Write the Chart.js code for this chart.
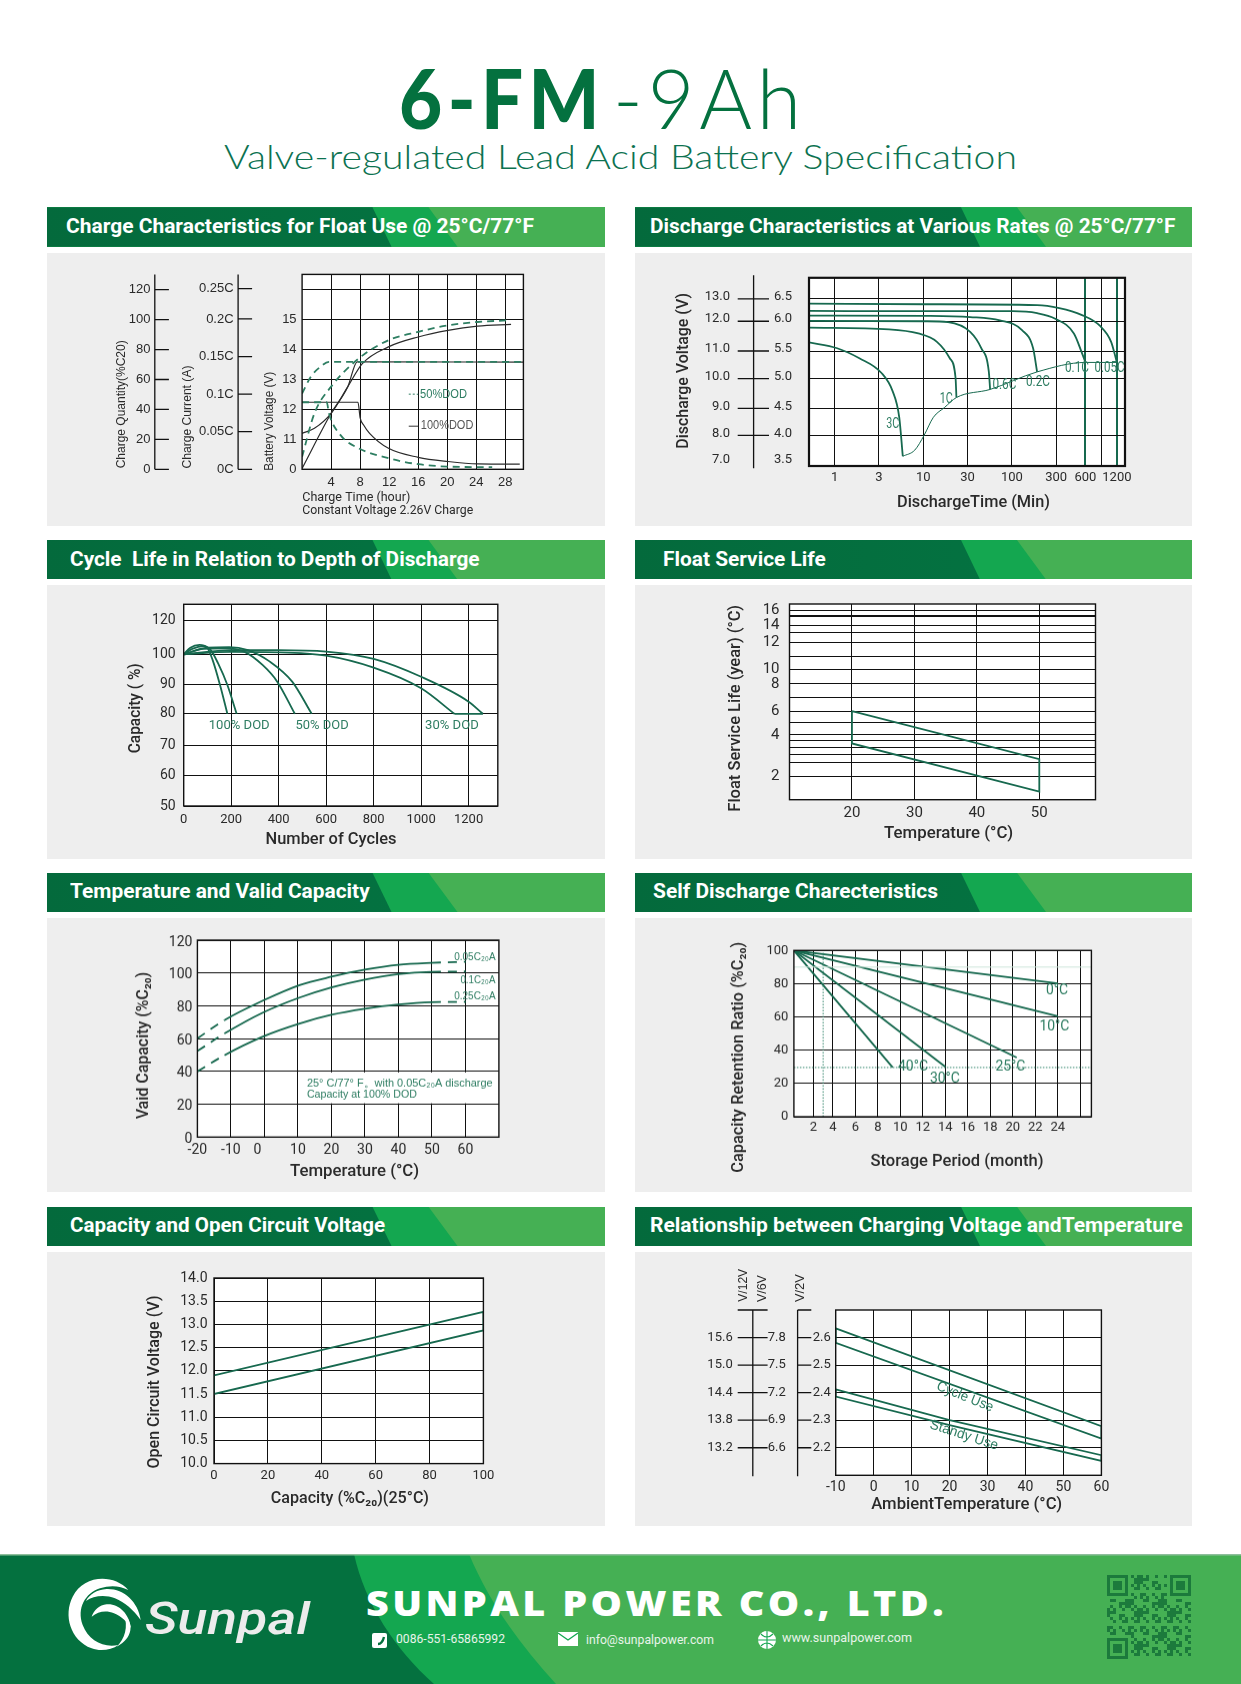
<!DOCTYPE html>
<html>
<head>
<meta charset="utf-8">
<title>6-FM-9Ah</title>
<script src="https://cdn.jsdelivr.net/npm/chart.js@4"></script>
<style>
  html, body { margin: 0; background: #fff; }
  #page { position: relative; width: 1241px; height: 1684px; overflow: hidden; background: #fff; }
  #page canvas { position: absolute; }
  .band, .panel, .layer { position: absolute; }
  .layer { inset: 0; }
  .txt { position: absolute; white-space: pre; line-height: 1; transform-origin: 0 50%; }
</style>
</head>
<body>
<div id="page"></div>
<script>
// Charge characteristics
const chargeTimeTicks = [4, 8, 12, 16, 20, 24, 28];
const batteryVoltTicks = [10, 11, 12, 13, 14, 15, 16];
const batteryVoltLabels = ['0', '11', '12', '13', '14', '15', ''];
const chargeQtyTicks = [0, 20, 40, 60, 80, 100, 120];
const chargeCurrentTicks = [0, 0.05, 0.1, 0.15, 0.2, 0.2403];
const chargeCurrentLabels = ['0C', '0.05C', '0.1C', '0.15C', '0.2C', '0.25C'];
const voltFullX = [0, 1.7, 4, 6.3, 8.3, 11.9, 16, 20.1, 24.2, 28.8];
const voltFullY = [11.2, 11.37, 11.87, 12.76, 13.53, 14.09, 14.42, 14.64, 14.78, 14.84];
const voltHalfX = [0, 1.7, 4, 7.8, 11.9, 16, 20.1, 24.2, 28.8];
const voltHalfY = [10.42, 11.87, 12.76, 13.7, 14.31, 14.59, 14.81, 14.92, 14.98];
const qtyFullX = [0, 4, 6.3, 7.6, 30.5];
const qtyFullY = [10.03, 11.87, 12.76, 13.59, 13.58];
const qtyHalfX = [0, 1.2, 2.5, 3.7, 30.5];
const qtyHalfY = [12.53, 13.09, 13.42, 13.59, 13.59];
const currentFullX = [0, 7.7, 8, 8.5, 9.3, 11.9, 16, 20.1, 24.2, 30];
const currentFullY = [12.24, 12.24, 11.72, 11.47, 11.2, 10.7, 10.4, 10.26, 10.18, 10.17];
const currentHalfX = [0, 3.4, 3.7, 5.3, 7.8, 11.9, 16, 20.1, 26.2];
const currentHalfY = [12.24, 12.24, 11.87, 11.14, 10.7, 10.37, 10.17, 10.09, 10.07];

// Discharge characteristics, the printed axes are not evenly spaced so values sit on grid slots
const dischargeTimeSlots = [0, 1, 2, 3, 4, 5, 5.66, 6.03, 6.37];
const dischargeTimeLabels = ['1', '3', '10', '30', '100', '300', '600', '', '1200'];
const dischargeVoltSlots = [7.17, 8.1, 9.07, 10.14, 11.13, 12.2, 13];
const dischargeVolt12 = ['7.0', '8.0', '9.0', '10.0', '11.0', '12.0', '13.0'];
const dischargeVolt6 = ['3.5', '4.0', '4.5', '5.0', '5.5', '6.0', '6.5'];
const rate005X = [-0.576, 2.06, 4.57, 5.07, 5.57, 5.99, 6.24, 6.37];
const rate005Y = [12.83, 12.81, 12.78, 12.67, 12.43, 12.03, 11.46, 10.72];
const rate01X = [-0.576, 2.06, 4.02, 4.57, 4.98, 5.4, 5.57, 5.66];
const rate01Y = [12.57, 12.56, 12.56, 12.49, 12.29, 11.76, 11.11, 10.72];
const rate02X = [-0.576, 2.06, 3.06, 3.73, 4.23, 4.48, 4.57];
const rate02Y = [12.4, 12.39, 12.35, 12.23, 11.88, 11.23, 10.38];
const rate06X = [-0.576, 2.06, 2.56, 3.06, 3.31, 3.48, 3.51];
const rate06Y = [12.21, 12.2, 12.17, 11.82, 11.23, 10.4, 9.75];
const rate1X = [-0.576, 1.23, 1.89, 2.31, 2.6, 2.73, 2.75];
const rate1Y = [11.97, 11.91, 11.76, 11.46, 10.87, 10.17, 9.46];
const rate3X = [-0.576, 0.06, 0.56, 1.06, 1.31, 1.46, 1.54];
const rate3Y = [11.44, 11.23, 10.87, 10.34, 9.69, 8.75, 7.35];
const cutoffX = [1.54, 1.81, 2.02, 2.23, 2.48, 2.75, 3.51, 4.57, 5.66, 6.37];
const cutoffY = [7.35, 7.57, 8.1, 8.75, 9.1, 9.46, 9.75, 10.38, 10.72, 10.72];

// Cycle life
const cycleTicks = [0, 200, 400, 600, 800, 1000, 1200];
const capacitySlots = [50, 60, 70, 80.4, 90.1, 100, 111.3];
const capacityLabels = ['50', '60', '70', '80', '90', '100', '120'];
const dod100aX = [0, 28, 67, 98, 122, 153, 184];
const dod100aY = [100, 102.2, 103.1, 102.3, 98.1, 89.9, 80.4];
const dod100bX = [0, 36, 83, 114, 145, 184, 223];
const dod100bY = [100, 101.8, 102.7, 101.4, 97, 89.9, 80.4];
const dod50aX = [0, 83, 176, 254, 332, 394, 468];
const dod50aY = [100, 101.8, 102, 100.9, 96.5, 91, 80.4];
const dod50bX = [0, 98, 192, 270, 363, 457, 539];
const dod50bY = [100, 102.2, 102.4, 101.4, 97.6, 91, 80.4];
const dod30aX = [0, 200, 400, 600, 800, 1000, 1140];
const dod30aY = [100, 100.8, 100.66, 99.56, 95.6, 88.8, 80.4];
const dod30bX = [0, 200, 400, 600, 800, 1000, 1200, 1260];
const dod30bY = [100, 101.4, 101.4, 100.9, 98.5, 92.6, 84.4, 80.4];
const dodEndX = [1140, 1260];
const dodEndY = [80.4, 80.4];

// Float service life, rows of the printed grid
const floatTempTicks = [20, 30, 40, 50];
const floatRows = [7, 11.2, 13.7, 15.6, 17.7, 19.5, 23.2, 26.6, 30.6, 34.8, 39.2, 43.1, 47.3, 50.2, 52.4, 55.1, 56.8];
const floatRowLabels = ['2', '', '', '', '', '4', '', '6', '', '8', '10', '', '12', '', '14', '', '16'];
const floatBandX = [20, 50, 50, 20, 20];
const floatBandY = [26.6, 12.2, 2.4, 16.9, 26.6];

// Temperature and valid capacity
const tempTicks = [-20, -10, 0, 10, 20, 30, 40, 50, 60];
const tempLabels = ['-20', '-10', '0    ', '10', '20', '30', '40', '50', '60'];
const validTicks = [0, 20, 40, 60, 80, 100, 120];
const validTemp = [-20, -11.9, -0.6, 10.5, 20, 30, 40, 50, 60.1];
const valid005 = [60.1, 71.3, 83, 92.6, 97.7, 102, 105, 106.2, 106.8];
const valid01 = [52.4, 63.1, 75.7, 85, 91.2, 96, 99.3, 100.7, 100.9];
const valid025 = [40, 49.9, 61.1, 69.2, 74.5, 78.2, 80.8, 82.2, 82.4];

// Self discharge
const storageSlots = [2.28, 4, 6, 8, 10, 12, 14, 16, 18, 20, 22, 24, 26];
const storageLabels = ['2', '4', '6', '8', '10', '12', '14', '16', '18', '20', '22', '24', ''];
const retentionTicks = [0, 20, 40, 60, 80, 100];
const retain0X = [0.54, 24];
const retain0Y = [100, 80.2];
const retain10X = [0.54, 24];
const retain10Y = [100, 60.5];
const retain25X = [0.54, 20.34];
const retain25Y = [100, 35.6];
const retain30X = [0.54, 14];
const retain30Y = [100, 30];
const retain40X = [0.54, 9.32];
const retain40Y = [100, 29.6];

// Capacity and open circuit voltage
const capacityTicks = [0, 20, 40, 60, 80, 100];
const ocvTicks = [10, 10.5, 11, 11.5, 12, 12.5, 13, 13.5, 14];
const ocvLabels = ['10.0', '10.5', '11.0', '11.5', '12.0', '12.5', '13.0', '13.5', '14.0'];
const ocvBandX = [0, 100, 100, 0, 0];
const ocvBandY = [11.9, 13.27, 12.87, 11.5, 11.9];

// Charging voltage and temperature
const ambientTicks = [-10, 0, 10, 20, 30, 40, 50, 60];
const chargeVoltTicks = [2.2, 2.3, 2.4, 2.5, 2.6];
const chargeVolt12 = ['13.2', '13.8', '14.4', '15.0', '15.6'];
const chargeVolt6 = ['6.6', '6.9', '7.2', '7.5', '7.8'];
const chargeVolt2 = ['2.2', '2.3', '2.4', '2.5', '2.6'];
const cycleUseX = [-10, 60, 60, -10, -10];
const cycleUseY = [2.633, 2.278, 2.233, 2.581, 2.633];
const standbyUseX = [-10, 20, 60, 60, 20, -10, -10];
const standbyUseY = [2.412, 2.3, 2.173, 2.152, 2.282, 2.386, 2.412];

const DARK = '#04713f', MID = '#14a750', LIGHT = '#45b054';
const CURVE = '#17694f', NOTE = '#2e7d62', INK = '#2a2a2a', GRID = '#111';
const ARIAL = '"Liberation Sans"', DIN = 'Roboto';

const page = document.getElementById('page');
const pts = (xs, ys) => xs.map((x, i) => ({ x, y: ys[i] }));

function place(text, o) {
  const el = document.createElement('span');
  el.className = 'txt';
  el.textContent = text;
  el.style.cssText = `left:${o.left}px;top:${o.cy - o.size / 2}px;font:${o.weight || 400} ${o.size}px/1 ${o.family || DIN};color:${o.color || '#fff'};letter-spacing:${o.spacing || 0}px;font-style:${o.italic ? 'italic' : 'normal'}`;
  page.appendChild(el);
  const w = el.getBoundingClientRect().width;
  el.style.transform = `scaleX(${o.w / w})`;
  return el;
}

function band(x, y, w, h, title, tx, tw) {
  const b = document.createElement('div');
  b.className = 'band';
  b.style.cssText = `left:${x}px;top:${y}px;width:${w}px;height:${h}px;background:${LIGHT}`;
  b.innerHTML = `<div class="layer" style="background:${MID};clip-path:polygon(0 0,382px 0,411px 100%,0 100%)"></div>` +
    `<div class="layer" style="background:linear-gradient(90deg,#046a3c,#047643);clip-path:polygon(0 0,326px 0,345px 100%,0 100%)"></div>`;
  page.appendChild(b);
  place(title, { left: tx, w: tw, cy: y + h / 2 - 0.5, size: 21, weight: 700 });
}

function marks(panel, spec) {
  return {
    id: 'marks',
    beforeDraw(chart) {
      const a = chart.chartArea, c = chart.ctx;
      c.save();
      c.fillStyle = '#fff';
      c.fillRect(a.left, a.top, a.right - a.left, a.bottom - a.top);
      c.restore();
    },
    beforeDatasetsDraw(chart) {
      if (!spec.clear) return;
      const c = chart.ctx, sx = chart.scales.x, sy = chart.scales.y, r = spec.clear;
      c.save();
      c.fillStyle = '#fff';
      c.fillRect(sx.getPixelForValue(r.x0), sy.getPixelForValue(r.y1), sx.getPixelForValue(r.x1) - sx.getPixelForValue(r.x0), sy.getPixelForValue(r.y0) - sy.getPixelForValue(r.y1));
      c.restore();
    },
    afterDraw(chart) {
      const c = chart.ctx, a = chart.chartArea;
      c.save();
      c.strokeStyle = '#111';
      c.lineWidth = spec.frame || 1.4;
      c.strokeRect(a.left, a.top, a.right - a.left, a.bottom - a.top);
      (spec.spines || []).forEach(s => {
        const sc = chart.scales[s.scale];
        c.lineWidth = 1.3;
        c.beginPath();
        c.moveTo(s.x - panel.x, (s.from ?? a.top + panel.y) - panel.y);
        c.lineTo(s.x - panel.x, (s.to ?? a.bottom + panel.y) - panel.y);
        if (s.cap) { c.moveTo(s.t0 - panel.x, s.from - panel.y); c.lineTo(s.t1 - panel.x, s.from - panel.y); }
        sc.ticks.forEach((t, i) => {
          if (s.skip && s.skip.includes(i)) return;
          const y = sc.getPixelForValue(t.value);
          c.moveTo(s.t0 - panel.x, y);
          c.lineTo(s.t1 - panel.x, y);
        });
        c.stroke();
      });
      (spec.text || []).forEach(t => {
        c.save();
        c.translate(t.x - panel.x, t.y - panel.y);
        if (t.rot) c.rotate(t.rot * Math.PI / 180);
        c.font = `${t.weight || 400} ${t.size}px ${t.family || DIN}`;
        c.fillStyle = t.color || INK;
        c.textAlign = 'center';
        c.textBaseline = 'middle';
        if (t.w) c.scale(t.w / c.measureText(t.text).width, 1);
        c.fillText(t.text, 0, 0);
        c.restore();
      });
      c.restore();
    }
  };
}

function axis(o, isX) {
  const ax = {
    type: 'linear', min: o.min, max: o.max,
    position: isX ? 'bottom' : 'left',
    weight: o.weight || 0,
    afterBuildTicks: s => { s.ticks = o.values.map(value => ({ value })); },
    afterFit: s => { if (isX) s.height = o.size; else s.width = o.size; },
    border: { display: false },
    grid: { display: o.grid !== false, drawTicks: false, color: o.gridColor || GRID, lineWidth: o.gridWidth || 1 },
    ticks: {
      autoSkip: false, maxRotation: 0, minRotation: 0, padding: o.padding, color: INK,
      font: o.font, labelOffset: o.labelOffset || 0,
      callback: (v, i) => o.labels ? o.labels[i] : String(v)
    }
  };
  return ax;
}

function drawChart(panel, plot, cfg) {
  const cv = document.createElement('canvas');
  cv.width = panel.w;
  cv.height = panel.h;
  cv.style.left = panel.x + 'px';
  cv.style.top = panel.y + 'px';
  cv.style.width = panel.w + 'px';
  cv.style.height = panel.h + 'px';
  page.appendChild(cv);
  const scales = { x: axis(cfg.x, true) };
  let used = 0;
  cfg.y.forEach((y, i) => { y.weight = i; used += y.size; scales[y.id] = axis(y, false); });
  return new Chart(cv.getContext('2d'), {
    type: 'line',
    data: { datasets: cfg.series },
    plugins: [marks(panel, cfg.marks)],
    options: {
      responsive: false, animation: false, devicePixelRatio: 1,
      layout: {
        autoPadding: false,
        padding: {
          left: plot.x0 - panel.x - used,
          right: panel.x + panel.w - plot.x1,
          top: plot.y0 - panel.y,
          bottom: panel.y + panel.h - plot.y1 - cfg.x.size
        }
      },
      plugins: { legend: { display: false }, tooltip: { enabled: false } },
      scales
    }
  });
}

const curve = (xs, ys, extra) => Object.assign({
  data: pts(xs, ys), borderColor: CURVE, borderWidth: 1.8, pointRadius: 0, fill: false,
  cubicInterpolationMode: 'monotone'
}, extra);
const straight = (xs, ys, extra) => curve(xs, ys, Object.assign({ cubicInterpolationMode: 'default', tension: 0 }, extra));

const fontOf = (family, size) => ({ family, size });
const title = (text, x, y, w, rot, size) => ({ text, x, y, w, rot, size: size || 16, weight: 500 });
const note = (text, x, y, w, size, family, rot) => ({ text, x, y, w, size: size || 13, family, color: NOTE, rot });

// Heading
place('6-FM', { left: 399, w: 206, cy: 97, size: 82, weight: 900, family: 'Lato', color: DARK, spacing: 6 });
place('-9Ah', { left: 613, w: 193, cy: 97, size: 82, weight: 300, family: 'Lato', color: DARK, spacing: 5 });
place('Valve-regulated Lead Acid Battery Specification', { left: 224, w: 793, cy: 156, size: 33, weight: 300, family: 'Lato', color: '#0c7250' });

// Section bands and panels
const leftX = 46.5, rightX = 635, leftW = 558, rightW = 557;
const rows = [
  { band: 207.3, gray: 252.7, grayH: 273.3 },
  { band: 540, gray: 585, grayH: 274 },
  { band: 872.7, gray: 918, grayH: 273.7 },
  { band: 1206.7, gray: 1251.7, grayH: 274 }
];
const bandTitles = [
  ['Charge Characteristics for Float Use @ 25°C/77°F', 65.9, 468, 'Discharge Characteristics at Various Rates @ 25°C/77°F', 650.4, 525.4],
  ['Cycle  Life in Relation to Depth of Discharge', 69.6, 409.6, 'Float Service Life', 663.3, 162.8],
  ['Temperature and Valid Capacity', 69.6, 299.7, 'Self Discharge Charecteristics', 653, 285],
  ['Capacity and Open Circuit Voltage', 69.6, 315, 'Relationship between Charging Voltage andTemperature', 650.4, 532.8]
];
const panelOf = (r, right) => ({ x: right ? rightX : leftX, y: rows[r].gray, w: right ? rightW : leftW, h: rows[r].grayH });
rows.forEach((row, r) => {
  band(leftX, row.band, leftW, 39.4, bandTitles[r][0], bandTitles[r][1], bandTitles[r][2]);
  band(rightX, row.band, rightW, 39.4, bandTitles[r][3], bandTitles[r][4], bandTitles[r][5]);
  [false, true].forEach(right => {
    const p = panelOf(r, right), d = document.createElement('div');
    d.className = 'panel';
    d.style.cssText = `left:${p.x}px;top:${p.y}px;width:${p.w}px;height:${p.h}px;background:#eeeeee`;
    page.appendChild(d);
  });
});

// Charge characteristics
const thinBlack = { borderColor: '#2b2b2b', borderWidth: 1.2 };
const dashGreen = { borderColor: '#2f7f63', borderWidth: 1.8, borderDash: [7, 5] };
drawChart(panelOf(0, false), { x0: 301.6, x1: 522.9, y0: 274, y1: 469.3 }, {
  x: { min: 0, max: 30.5, values: chargeTimeTicks, size: 30, padding: 5, font: fontOf(ARIAL, 13) },
  y: [
    { id: 'y', min: 10, max: 16.51, values: batteryVoltTicks, labels: batteryVoltLabels, size: 55, padding: 5.5, font: fontOf(ARIAL, 13) },
    { id: 'yCur', min: 0, max: 0.2593, values: chargeCurrentTicks, labels: chargeCurrentLabels, size: 83, padding: 13.5, grid: false, font: fontOf(ARIAL, 13) },
    { id: 'yQty', min: 0, max: 130.2, values: chargeQtyTicks, size: 55, padding: 13.6, grid: false, font: fontOf(ARIAL, 13) }
  ],
  series: [
    curve(currentHalfX, currentHalfY, dashGreen),
    curve(qtyHalfX, qtyHalfY, dashGreen),
    curve(voltHalfX, voltHalfY, dashGreen),
    curve(currentFullX, currentFullY, thinBlack),
    curve(qtyFullX, qtyFullY, thinBlack),
    curve(voltFullX, voltFullY, thinBlack),
    straight([14.7, 16], [12.51, 12.51], { borderColor: NOTE, borderWidth: 1, borderDash: [2, 2] }),
    straight([14.7, 16], [11.44, 11.44], { borderColor: '#333', borderWidth: 1 })
  ],
  marks: {
    spines: [
      { scale: 'yQty', x: 154.3, t0: 154.3, t1: 168.4 },
      { scale: 'yCur', x: 237.6, t0: 237.6, t1: 251.6 }
    ],
    text: [
      { text: 'Charge Quantity(%C20)', x: 121.4, y: 404, w: 128, rot: -90, size: 13, family: ARIAL },
      { text: 'Charge Current (A)', x: 186.9, y: 416.7, w: 103, rot: -90, size: 13, family: ARIAL },
      { text: 'Battery Voltage (V)', x: 268.7, y: 421, w: 99, rot: -90, size: 13, family: ARIAL },
      { text: 'Charge Time (hour)', x: 355.8, y: 497.3, w: 108, size: 13 },
      { text: 'Constant Voltage 2.26V Charge', x: 387.2, y: 510.7, w: 171, size: 13 },
      note('50%DOD', 443, 394, 47, 12, ARIAL),
      { text: '100%DOD', x: 446.6, y: 425.3, w: 52.5, size: 12, family: ARIAL, color: '#555' }
    ]
  }
});

// Discharge characteristics
const slotColor = c => (c.tick.value === 5.66 || c.tick.value === 6.37) ? CURVE : GRID;
const slotWidth = c => (c.tick.value === 5.66 || c.tick.value === 6.37) ? 2 : 1;
drawChart(panelOf(0, true), { x0: 809, x1: 1125, y0: 275.3, y1: 466 }, {
  x: { min: -0.576, max: 6.553, values: dischargeTimeSlots, labels: dischargeTimeLabels, size: 30, padding: 4, font: fontOf(DIN, 13), gridColor: slotColor, gridWidth: slotWidth },
  y: [
    { id: 'y', min: 7, max: 13.76, values: dischargeVoltSlots, labels: dischargeVolt6, size: 75, padding: 17, font: fontOf(DIN, 13), labelOffset: -2, gridColor: c => c.index === 0 ? 'transparent' : GRID },
    { id: 'y12', min: 7, max: 13.76, values: dischargeVoltSlots, labels: dischargeVolt12, size: 40, padding: 4, grid: false, font: fontOf(DIN, 13), labelOffset: -2 }
  ],
  series: [
    curve(rate005X, rate005Y),
    curve(rate01X, rate01Y),
    curve(rate02X, rate02Y),
    curve(rate06X, rate06Y),
    curve(rate1X, rate1Y),
    curve(rate3X, rate3Y),
    curve(cutoffX, cutoffY, { borderWidth: 1 })
  ],
  marks: {
    frame: 2.2,
    spines: [{ scale: 'y', x: 753.6, t0: 737.7, t1: 769, from: 275, to: 468, skip: [0] }],
    text: [
      title('Discharge Voltage (V)', 683.6, 370.5, 155.7, -90),
      title('DischargeTime (Min)', 973.5, 502.7, 153, 0),
      note('3C', 892.7, 424.3, 13, 14),
      note('1C', 946.3, 399.3, 13, 14),
      note('0.6C', 1004.4, 385, 24, 14),
      note('0.2C', 1038, 381.7, 24, 14),
      note('0.1C', 1077, 368.3, 24, 14),
      note('0.05C', 1109.5, 368.3, 30, 14)
    ]
  }
});

// Cycle life
drawChart(panelOf(1, false), { x0: 183.2, x1: 497.3, y0: 604.3, y1: 806 }, {
  x: { min: 0, max: 1323, values: cycleTicks, size: 30, padding: 6, font: fontOf(DIN, 13) },
  y: [{ id: 'y', min: 50, max: 116.5, values: capacitySlots, labels: capacityLabels, size: 40, padding: 8, font: fontOf(DIN, 14) }],
  series: [
    curve(dod100aX, dod100aY), curve(dod100bX, dod100bY),
    curve(dod50aX, dod50aY), curve(dod50bX, dod50bY),
    curve(dod30aX, dod30aY), curve(dod30bX, dod30bY),
    straight(dodEndX, dodEndY)
  ],
  marks: {
    text: [
      title('Capacity ( %)', 135, 708.3, 90, -90),
      title('Number of Cycles', 330.5, 840, 131, 0),
      note('100% DOD', 238.7, 725.7, 61),
      note('50% DOD', 321.6, 725.7, 53),
      note('30% DOD', 451.4, 725.7, 53.6)
    ]
  }
});

// Float service life
drawChart(panelOf(1, true), { x0: 789.5, x1: 1095.5, y0: 603.7, y1: 799.7 }, {
  x: { min: 10, max: 59, values: floatTempTicks, size: 30, padding: 5, font: fontOf(DIN, 15) },
  y: [{ id: 'y', min: 0, max: 58.8, values: floatRows, labels: floatRowLabels, size: 40, padding: 10, font: fontOf(DIN, 15), gridWidth: c => c.tick.value === 55.1 ? 2 : 1 }],
  series: [straight(floatBandX, floatBandY)],
  marks: {
    text: [
      title('Float Service Life (year) (°C)', 736.2, 708.3, 206.7, -90),
      title('Temperature (°C)', 948.6, 834, 129, 0)
    ]
  }
});

// Temperature and valid capacity
const dashEnds = { segment: { borderDash: c => (c.p0.parsed.x < -15 || c.p0.parsed.x >= 50) ? [9, 7] : undefined } };
drawChart(panelOf(2, false), { x0: 196.9, x1: 498.4, y0: 940, y1: 1137 }, {
  x: { min: -20, max: 70, values: tempTicks, labels: tempLabels, size: 30, padding: 5, font: fontOf(DIN, 14) },
  y: [{ id: 'y', min: 0, max: 120, values: validTicks, size: 40, padding: 5, font: fontOf(DIN, 14), labelOffset: 2 }],
  series: [
    curve(validTemp, valid005, dashEnds),
    curve(validTemp, valid01, dashEnds),
    curve(validTemp, valid025, dashEnds)
  ],
  marks: {
    clear: { x0: 10.5, x1: 69.8, y0: 20.6, y1: 39.4 },
    text: [
      title('Vaid Capacity (%C₂₀)', 143.6, 1045, 146.7, -90),
      title('Temperature (°C)', 354, 1171, 129, 0),
      note('0.05C₂₀A', 474.4, 956.7, 41.4, 11, ARIAL),
      note('0.1C₂₀A', 477.4, 980, 35, 11, ARIAL),
      note('0.25C₂₀A', 474.4, 996.3, 41.4, 11, ARIAL),
      note('25° C/77° F。with 0.05C₂₀A discharge', 399.3, 1082.7, 185.7, 11, ARIAL),
      note('Capacity at 100% DOD', 361.4, 1094.3, 110, 11, ARIAL)
    ]
  }
});

// Self discharge
const dotted = { borderColor: '#3a8a70', borderWidth: 1, borderDash: [1.5, 1.5] };
drawChart(panelOf(2, true), { x0: 793.9, x1: 1091.4, y0: 950.3, y1: 1116.7 }, {
  x: { min: 0.54, max: 26.98, values: storageSlots, labels: storageLabels, size: 30, padding: 3, font: fontOf(DIN, 13) },
  y: [{ id: 'y', min: 0, max: 100, values: retentionTicks, size: 40, padding: 5.5, font: fontOf(DIN, 13) }],
  series: [
    straight([0.54, 26.98], [29.6, 29.6], dotted),
    straight([3.14, 3.14], [0, 100], dotted),
    straight([0.54, 26.98], [90, 90], { borderColor: '#cfe6dc', borderWidth: 1 }),
    straight(retain0X, retain0Y), straight(retain10X, retain10Y), straight(retain25X, retain25Y),
    straight(retain30X, retain30Y), straight(retain40X, retain40Y)
  ],
  marks: {
    text: [
      title('Capacity Retention Ratio (%C₂₀)', 739, 1056.7, 230, -90),
      title('Storage Period (month)', 957, 1160.7, 173, 0),
      note('0°C', 1057, 990.7, 22, 14),
      note('10°C', 1054.4, 1026.7, 30, 14),
      note('25°C', 1010.4, 1066, 30, 14),
      note('40°C', 913, 1066, 30, 14),
      note('30°C', 944.9, 1078.3, 30, 14)
    ]
  }
});

// Capacity and open circuit voltage
drawChart(panelOf(3, false), { x0: 213.5, x1: 482.9, y0: 1277.7, y1: 1463.3 }, {
  x: { min: 0, max: 100, values: capacityTicks, size: 30, padding: 4, font: fontOf(DIN, 13) },
  y: [{ id: 'y', min: 10, max: 14, values: ocvTicks, labels: ocvLabels, size: 40, padding: 6.5, font: fontOf(DIN, 14) }],
  series: [straight(ocvBandX, ocvBandY)],
  marks: {
    text: [
      title('Open Circuit Voltage (V)', 154.7, 1381.7, 173, -90),
      title('Capacity (%C₂₀)(25°C)', 349.3, 1498.3, 158, 0)
    ]
  }
});

// Charging voltage and temperature
drawChart(panelOf(3, true), { x0: 835.7, x1: 1101.4, y0: 1309.7, y1: 1475 }, {
  x: { min: -10, max: 60, values: ambientTicks, size: 30, padding: 4, font: fontOf(DIN, 14) },
  y: [
    { id: 'y', min: 2.1, max: 2.7, values: chargeVoltTicks, labels: chargeVolt2, size: 45, padding: 5, font: fontOf(DIN, 13) },
    { id: 'y6', min: 2.1, max: 2.7, values: chargeVoltTicks, labels: chargeVolt6, size: 52, padding: 5, grid: false, font: fontOf(DIN, 13) },
    { id: 'y12', min: 2.1, max: 2.7, values: chargeVoltTicks, labels: chargeVolt12, size: 40, padding: 6, grid: false, font: fontOf(DIN, 13) }
  ],
  series: [
    straight(cycleUseX, cycleUseY),
    curve(standbyUseX, standbyUseY, { cubicInterpolationMode: 'default', tension: 0 })
  ],
  marks: {
    spines: [
      { scale: 'y', x: 752.8, t0: 737.7, t1: 767.6, from: 1309.7, to: 1476, cap: true },
      { scale: 'y', x: 797.6, t0: 797.6, t1: 811.3, from: 1309.7, to: 1476, cap: true }
    ],
    text: [
      title('AmbientTemperature (°C)', 966.7, 1505, 191, 0),
      { text: 'V/12V', x: 743, y: 1285, w: 33, rot: -90, size: 13, family: ARIAL },
      { text: 'V/6V', x: 762.5, y: 1288.3, w: 27, rot: -90, size: 13, family: ARIAL },
      { text: 'V/2V', x: 800, y: 1287.8, w: 28, rot: -90, size: 13, family: ARIAL },
      note('Cycle Use', 964.9, 1396.7, 60, 14, ARIAL, 22),
      note('Standy Use', 964, 1435, 71, 14, ARIAL, 18)
    ]
  }
});

// Footer
function footer() {
  const ns = 'http://www.w3.org/2000/svg';
  const svg = document.createElementNS(ns, 'svg');
  svg.setAttribute('width', 1241);
  svg.setAttribute('height', 130);
  svg.style.cssText = 'position:absolute;left:0;top:1554px';
  let qr = '';
  const cell = 3, n = 28, qx = 1107, qy = 21;
  const finder = (cx, cy) => `<path fill="#1c7a3c" fill-rule="evenodd" d="M${cx} ${cy}h21v21h-21zM${cx + 3} ${cy + 3}v15h15v-15z"/><rect x="${cx + 6}" y="${cy + 6}" width="9" height="9" fill="#1c7a3c"/>`;
  for (let i = 0; i < n; i++) for (let j = 0; j < n; j++) {
    if ((i < 8 && j < 8) || (i < 8 && j >= n - 8) || (i >= n - 8 && j < 8)) continue;
    if ((i * 7 + j * 13 + i * j * 3) % 11 < 5) qr += `<rect x="${qx + i * cell}" y="${qy + j * cell}" width="3" height="3" fill="#1c7a3c"/>`;
  }
  qr += finder(qx, qy) + finder(qx + (n - 7) * cell, qy) + finder(qx, qy + (n - 7) * cell);
  svg.innerHTML = `
    <rect width="1241" height="130" fill="${LIGHT}"/>
    <path d="M0 0H469C490 50 520 90 556 130H0Z" fill="${MID}"/>
    <path d="M0 0H354C365 50 395 95 434 130H0Z" fill="${DARK}"/>
    <rect width="1241" height="1.5" fill="#8fbf9c"/>
    <g fill="#fff" transform="translate(50,11) scale(0.3333)">
      <path d="M235 75C190 25 100 30 68 95C40 150 60 225 125 250C150 260 185 255 205 240C160 250 115 225 98 180C80 130 105 85 150 70C180 60 210 62 235 75Z"/>
      <path d="M272 165C265 110 220 70 170 72C140 74 118 88 108 108C130 92 165 88 195 100C225 112 250 135 272 165Z"/>
      <path d="M243 190C238 145 205 115 170 118C148 120 132 135 125 155C145 138 170 135 192 145C215 155 232 170 243 190Z"/>
      <path d="M222 148C252 175 250 220 200 245C225 222 235 185 222 148Z"/>
    </g>
    <g fill="#fff">
      <rect x="372" y="79" width="15" height="15" rx="2"/>
      <rect x="558" y="78" width="20" height="14"/>
      <circle cx="767" cy="86" r="9"/>
    </g>
    <path d="M378 90c3 0 5-3 6-7" stroke="${DARK}" stroke-width="2.4" fill="none"/>
    <path d="M558 79l10 7 10-7" stroke="${MID}" stroke-width="1.4" fill="none"/>
    <path d="M758 86h18M767 77v18M761 80c4 4 8 4 12 0M761 92c4-4 8-4 12 0" stroke="${MID}" stroke-width="1.1" fill="none"/>
    ${qr}`;
  page.appendChild(svg);
  place('Sunpal', { left: 145, w: 165, cy: 1619, size: 44, weight: 500, italic: true, color: '#ececec' });
  place('SUNPAL POWER CO., LTD.', { left: 366, w: 581, cy: 1602, size: 35, weight: 800, family: '"Open Sans"', spacing: 3 });
  place('0086-551-65865992', { left: 396, w: 109, cy: 1638, size: 13, color: '#e8f4ea' });
  place('info@sunpalpower.com', { left: 586, w: 128, cy: 1639, size: 13, color: '#e8f4ea' });
  place('www.sunpalpower.com', { left: 782, w: 130, cy: 1637, size: 13, color: '#e8f4ea' });
}
footer();
</script>
</body>
</html>
